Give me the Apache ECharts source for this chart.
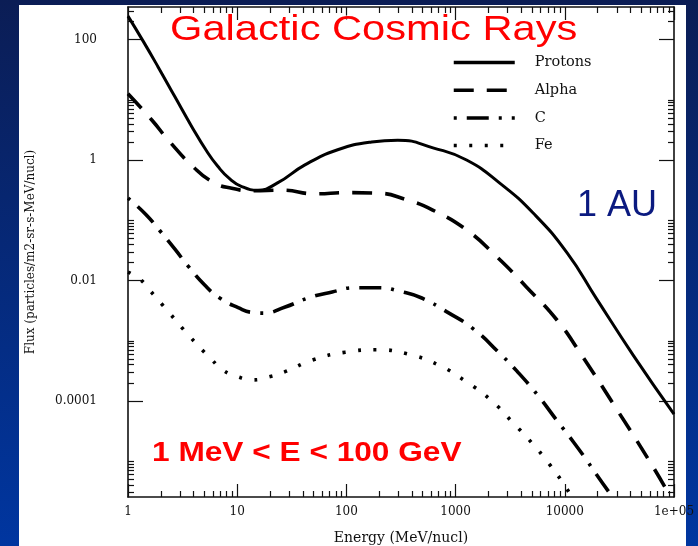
<!DOCTYPE html>
<html><head><meta charset="utf-8">
<script src="https://cdn.jsdelivr.net/npm/echarts@6/dist/echarts.min.js"></script>
<style>html,body{margin:0;padding:0;background:#0c1d55}#c{width:698px;height:546px}</style>
</head><body><div id="c"></div>
<script>
// ---- data (energy MeV/nucl, flux particles/m2-sr-s-MeV/nucl) ----
const seriesNames = ['Protons', 'Alpha', 'C', 'Fe'];
const protonE = [1, 1.38, 1.88, 2.69, 3.85, 5.25, 6.61, 8.51, 11, 15.5, 23.4, 41.7, 83.2, 170, 295, 631, 1260, 2570, 5130, 10500, 19500, 42700, 100000];
const protonF = [245, 93.3, 35.5, 11.2, 3.55, 1.41, 0.794, 0.49, 0.363, 0.316, 0.417, 0.832, 1.48, 2.0, 2.14, 1.58, 1.0, 0.407, 0.132, 0.0288, 0.00501, 0.000562, 0.0000603];
const alphaE = [1, 1.66, 2.34, 3.89, 5.89, 8.91, 13.8, 25.7, 51.3, 100, 195, 355, 617, 1260, 2400, 4470, 8510, 13800, 30200, 64600, 93300];
const alphaF = [12.6, 4.57, 2.14, 0.794, 0.437, 0.339, 0.309, 0.316, 0.275, 0.288, 0.282, 0.219, 0.148, 0.0692, 0.0245, 0.00776, 0.00219, 0.000631, 0.0000708, 0.00000794, 0.00000251];
const carbonE = [1, 1.45, 1.95, 2.69, 3.55, 5.01, 6.92, 10.2, 13.8, 17.4, 27.5, 44.7, 74.1, 120, 195, 324, 490, 832, 1450, 2570, 3630, 5620, 8510, 12000, 15800, 19500, 25100];
const carbonF = [0.234, 0.126, 0.0676, 0.0331, 0.0174, 0.00851, 0.00513, 0.00355, 0.00295, 0.00288, 0.00363, 0.00513, 0.00646, 0.00759, 0.00759, 0.00646, 0.00513, 0.00302, 0.00158, 0.000603, 0.000316, 0.000126, 0.0000468, 0.0000209, 0.0000105, 0.00000603, 0.00000316];
const ironE = [1, 1.29, 1.58, 2.40, 3.72, 5.89, 7.41, 10.2, 13.8, 19.5, 26.9, 49.0, 97.7, 191, 363, 692, 1230, 2090, 3310, 5010, 7080, 9550, 11200];
const ironF = [0.0138, 0.0105, 0.00692, 0.00288, 0.00115, 0.000479, 0.000324, 0.000251, 0.000224, 0.000251, 0.000302, 0.000479, 0.000646, 0.000708, 0.000603, 0.000398, 0.000214, 0.000105, 0.0000447, 0.00002, 0.00000933, 0.00000447, 0.00000282];

// ---- axes ----
const xMin = 1, xMax = 100000;
const yMin = 0.00000255, yMax = 347;
const xMajorTicks = [1, 10, 100, 1000, 10000, 100000];
const xTickLabels = ['1', '10', '100', '1000', '10000', '1e+05'];
const xMinorTicks = [2, 3, 4, 5, 6, 7, 8, 9, 20, 30, 40, 50, 60, 70, 80, 90, 200, 300, 400, 500, 600, 700, 800, 900,
  2000, 3000, 4000, 5000, 6000, 7000, 8000, 9000, 20000, 30000, 40000, 50000, 60000, 70000, 80000, 90000];
const yMajorTicks = [0.0001, 0.01, 1, 100];
const yTickLabels = ['0.0001', '0.01', '1', '100'];
const yMinorTicks = [0.000003, 0.000004, 0.000005, 0.000006, 0.000007, 0.000008, 0.000009, 0.00001,
  0.0002, 0.0003, 0.0004, 0.0005, 0.0006, 0.0007, 0.0008, 0.0009, 0.001,
  0.02, 0.03, 0.04, 0.05, 0.06, 0.07, 0.08, 0.09, 0.1,
  2, 3, 4, 5, 6, 7, 8, 9, 10, 200, 300];

const titleText = 'Galactic Cosmic Rays';
const locText = '1 AU';
const rangeText = '1 MeV < E < 100 GeV';
const xName = 'Energy (MeV/nucl)';
const yName = 'Flux (particles/m2-sr-s-MeV/nucl)';

function lookup(ticks, labels) {
  return function (v) {
    for (let i = 0; i < ticks.length; i++) {
      if (Math.abs(Math.log10(ticks[i]) - Math.log10(v)) < 1e-6) return labels[i];
    }
    return '';
  };
}
const serif = '"DejaVu Serif", serif';
const ink = '#111';

function xAx(pos, major, showLabel, showName) {
  return {
    type: 'log', logBase: 10, min: xMin, max: xMax, position: pos,
    axisLine: { show: major, onZero: false, lineStyle: { color: ink, width: 1.6 } },
    axisTick: { show: true, inside: true, length: major ? 13 : 6, customValues: major ? xMajorTicks : xMinorTicks,
      lineStyle: { color: ink, width: 1.2 } },
    minorTick: { show: false },
    axisLabel: showLabel ? { show: true, customValues: xMajorTicks, formatter: lookup(xMajorTicks, xTickLabels),
      margin: 9, fontFamily: serif, fontSize: 12, color: ink, showMinLabel: true, showMaxLabel: true } : { show: false },
    splitLine: { show: false },
    name: showName ? xName : '', nameLocation: 'middle', nameGap: 34,
    nameTextStyle: { fontFamily: serif, fontSize: 14, color: ink }
  };
}
function yAx(pos, major, showLabel, showName) {
  return {
    type: 'log', logBase: 10, min: yMin, max: yMax, position: pos,
    axisLine: { show: major, onZero: false, lineStyle: { color: ink, width: 1.6 } },
    axisTick: { show: true, inside: true, length: major ? 15 : 6, customValues: major ? yMajorTicks : yMinorTicks,
      lineStyle: { color: ink, width: 1.2 } },
    minorTick: { show: false },
    axisLabel: showLabel ? { show: true, customValues: yMajorTicks, formatter: lookup(yMajorTicks, yTickLabels),
      margin: 31, fontFamily: serif, fontSize: 12, color: ink } : { show: false },
    splitLine: { show: false },
    name: showName ? yName : '', nameLocation: 'middle', nameRotate: 90, nameGap: 91,
    nameTextStyle: { fontFamily: serif, fontSize: 12, color: ink }
  };
}

function pairs(e, f) { return e.map((v, i) => [v, f[i]]); }
function lineSeries(name, e, f, width, dash) {
  return {
    name: name, type: 'line', xAxisIndex: 0, yAxisIndex: 0,
    data: pairs(e, f), smooth: 0.5, symbol: 'none', showSymbol: false,
    lineStyle: { color: '#000', width: width, type: dash, cap: 'butt' },
    itemStyle: { color: '#000' }, emphasis: { disabled: true }, clip: true, z: 5
  };
}

const chart = echarts.init(document.getElementById('c'), null, { renderer: 'canvas' });
chart.setOption({
  animation: false,
  backgroundColor: { type: 'linear', x: 0, y: 0, x2: 0, y2: 1,
    colorStops: [{ offset: 0, color: '#0b1d55' }, { offset: 1, color: '#0036a0' }] },
  grid: { left: 128, right: 24, top: 7, bottom: 49, containLabel: false, outerBoundsMode: 'none' },
  xAxis: [xAx('bottom', true, true, true), xAx('bottom', false, false, false),
          xAx('top', true, false, false), xAx('top', false, false, false)],
  yAxis: [yAx('left', true, true, true), yAx('left', false, false, false),
          yAx('right', true, false, false), yAx('right', false, false, false)],
  legend: {
    orient: 'vertical', left: 452, top: 55, padding: 0, itemWidth: 61, itemHeight: 14, itemGap: 12.7,
    data: seriesNames, selectedMode: false,
    textStyle: { fontFamily: serif, fontSize: 14.5, color: ink, padding: [0, 0, 0, 15] },
    lineStyle: { width: 3.5 }, itemStyle: { opacity: 0 }
  },
  graphic: [
    { type: 'rect', z: -100, silent: true, shape: { x: 19, y: 5, width: 667, height: 541 }, style: { fill: '#ffffff' } },
    { type: 'text', z: 100, x: 170, y: 30, scaleX: 1.19, silent: true,
      style: { text: titleText, font: '35px "Liberation Sans", Arial, sans-serif', fill: '#ff0000',
        textAlign: 'left', textVerticalAlign: 'middle', stroke: '#ffffff', lineWidth: 1,
        shadowColor: 'rgba(40,0,0,0.75)', shadowOffsetX: 2, shadowOffsetY: 2, shadowBlur: 1 } },
    { type: 'text', z: 100, x: 577, y: 206, silent: true,
      style: { text: locText, font: '36px "Liberation Sans", Arial, sans-serif', fill: '#0b1a80',
        textAlign: 'left', textVerticalAlign: 'middle' } },
    { type: 'text', z: 100, x: 152, y: 453.3, scaleX: 1.13, silent: true,
      style: { text: rangeText, font: 'bold 28px "Liberation Sans", Arial, sans-serif', fill: '#ff0000',
        textAlign: 'left', textVerticalAlign: 'middle' } }
  ],
  series: [
    lineSeries(seriesNames[0], protonE, protonF, 3, 'solid'),
    lineSeries(seriesNames[1], alphaE, alphaF, 3.6, [20, 13]),
    lineSeries(seriesNames[2], carbonE, carbonF, 3.6, [3, 10, 22, 10]),
    lineSeries(seriesNames[3], ironE, ironF, 3.6, [3, 12.5])
  ]
});
</script></body></html>
